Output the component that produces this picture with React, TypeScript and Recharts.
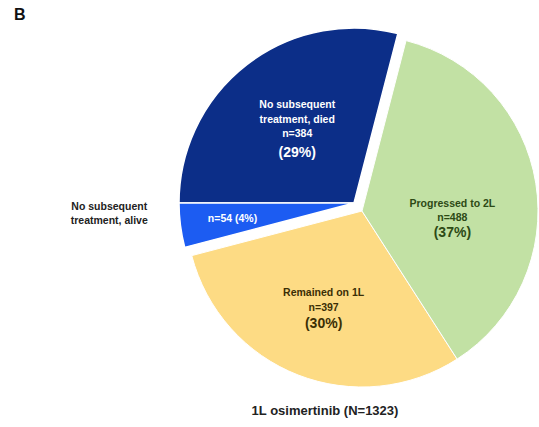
import React from "react";
import { Cell, Pie, PieChart } from "recharts";

// 1L osimertinib outcomes (N=1323)
const groups = [
  "No subsequent treatment, died",
  "No subsequent treatment, alive",
  "Remained on 1L",
  "Progressed to 2L",
];
const counts = [384, 54, 397, 488];
const percents = ["29%", "4%", "30%", "37%"];

const colors = ["#0c2e88", "#1c5cf2", "#fddb84", "#c2e1a4"];
// navy + blue wedges are pulled out together
const exploded = [true, true, false, false];

const data = groups.map((name, i) => ({ name, value: counts[i] }));

const FONT = "Arial, 'Liberation Sans', sans-serif";
const RAD = Math.PI / 180;
const SMALL = 10.5;
const BIG = 14;

function polar(cx: number, cy: number, r: number, angle: number) {
  return { x: cx + r * Math.cos(-angle * RAD), y: cy + r * Math.sin(-angle * RAD) };
}

type LabelProps = {
  cx?: number;
  cy?: number;
  midAngle?: number;
  outerRadius?: number;
  index?: number;
};

function SliceLabel({ cx = 0, cy = 0, midAngle = 0, outerRadius = 0, index = 0 }: LabelProps) {
  if (index === 0) {
    const p = polar(cx, cy, outerRadius * 0.53, midAngle);
    return (
      <g fontFamily={FONT} fontWeight={700} fill="#ffffff" textAnchor="middle">
        <text x={p.x} y={p.y - 26} fontSize={SMALL} dominantBaseline="central">No subsequent</text>
        <text x={p.x} y={p.y - 11} fontSize={SMALL} dominantBaseline="central">treatment, died</text>
        <text x={p.x} y={p.y + 3} fontSize={SMALL} dominantBaseline="central">n={counts[0]}</text>
        <text x={p.x} y={p.y + 22} fontSize={BIG} dominantBaseline="central">({percents[0]})</text>
      </g>
    );
  }
  if (index === 1) {
    const p = polar(cx, cy, outerRadius * 0.7, midAngle);
    const o = polar(cx, cy, outerRadius * 1.41, midAngle);
    return (
      <g fontFamily={FONT} fontWeight={700} textAnchor="middle">
        <text x={p.x} y={p.y - 1} fontSize={SMALL} fill="#ffffff" dominantBaseline="central">
          n={counts[1]} ({percents[1]})
        </text>
        <text x={o.x} y={o.y - 29} fontSize={SMALL} fill="#222222" dominantBaseline="central">No subsequent</text>
        <text x={o.x} y={o.y - 15} fontSize={SMALL} fill="#222222" dominantBaseline="central">treatment, alive</text>
      </g>
    );
  }
  if (index === 2) {
    const p = polar(cx, cy, outerRadius * 0.6, midAngle);
    return (
      <g fontFamily={FONT} fontWeight={700} fill="#3b2e05" textAnchor="middle">
        <text x={p.x} y={p.y - 17} fontSize={SMALL} dominantBaseline="central">{groups[2]}</text>
        <text x={p.x} y={p.y - 2} fontSize={SMALL} dominantBaseline="central">n={counts[2]}</text>
        <text x={p.x} y={p.y + 14} fontSize={BIG} dominantBaseline="central">({percents[2]})</text>
      </g>
    );
  }
  const p = polar(cx, cy, outerRadius * 0.52, midAngle);
  return (
    <g fontFamily={FONT} fontWeight={700} fill="#2d4a16" textAnchor="middle">
      <text x={p.x} y={p.y + 6} fontSize={SMALL} dominantBaseline="central">{groups[3]}</text>
      <text x={p.x} y={p.y + 20} fontSize={SMALL} dominantBaseline="central">n={counts[3]}</text>
      <text x={p.x} y={p.y + 35} fontSize={BIG} dominantBaseline="central">({percents[3]})</text>
    </g>
  );
}

export default function App() {
  return (
    <div style={{ position: "absolute", left: 0, top: 0, width: 539, height: 427, background: "#fff" }}>
      <PieChart width={539} height={427} margin={{ top: 0, right: 0, bottom: 0, left: 0 }}>
        {/* resting wedges: green + yellow */}
        <Pie
          data={data}
          dataKey="value"
          cx={362}
          cy={211}
          outerRadius={176}
          startAngle={75.5}
          endAngle={435.5}
          isAnimationActive={false}
          labelLine={false}
          label={(props: LabelProps) =>
            exploded[props.index ?? 0] ? null : <SliceLabel {...props} />
          }
        >
          {data.map((d, i) => (
            <Cell
              key={d.name}
              fill={exploded[i] ? "none" : colors[i]}
              stroke={exploded[i] ? "none" : "#ffffff"}
              strokeWidth={1}
            />
          ))}
        </Pie>
        {/* pulled-out wedges: navy + blue */}
        <Pie
          data={data}
          dataKey="value"
          cx={354}
          cy={203}
          outerRadius={175}
          startAngle={75.5}
          endAngle={435.5}
          isAnimationActive={false}
          labelLine={false}
          label={(props: LabelProps) =>
            exploded[props.index ?? 0] ? <SliceLabel {...props} /> : null
          }
        >
          {data.map((d, i) => (
            <Cell
              key={d.name}
              fill={exploded[i] ? colors[i] : "none"}
              stroke={exploded[i] ? "#ffffff" : "none"}
              strokeWidth={1.5}
            />
          ))}
        </Pie>
        <text x={14} y={14} fontFamily={FONT} fontWeight={700} fontSize={16} fill="#111" dominantBaseline="central">
          B
        </text>
        <text x={325} y={410} fontFamily={FONT} fontWeight={700} fontSize={13} fill="#222" textAnchor="middle" dominantBaseline="central">
          1L osimertinib (N=1323)
        </text>
      </PieChart>
    </div>
  );
}
